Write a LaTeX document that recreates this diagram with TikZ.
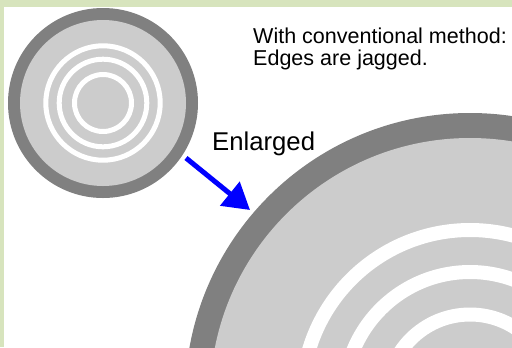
\documentclass[tikz,border=0pt]{standalone}
\usepackage{xcolor}
\usepackage{fontspec}
\setmainfont{Liberation Sans}
\usepackage{tikz}
\usetikzlibrary{arrows.meta, positioning}
\definecolor{framegreen}{RGB}{215,228,189}
\definecolor{rimgrey}{RGB}{128,128,128}
\definecolor{discgrey}{RGB}{204,204,204}
\definecolor{arrowblue}{RGB}{0,0,255}
\tikzset{
  rim/.style={fill=rimgrey},
  disc/.style={fill=discgrey},
  groove/.style={draw=white},
  caption/.style={anchor=base west, inner sep=0pt,
    font=\fontsize{21.6}{25}\selectfont},
  bigcaption/.style={anchor=base west, inner sep=0pt,
    font=\fontsize{25.8}{30}\selectfont},
  bigarrow/.style={-{Triangle[width=30bp, length=26bp]},
    line width=5bp, color=arrowblue}
}

\begin{document}
\begin{tikzpicture}[x=1bp, y=-1bp]
  \useasboundingbox (0,0) rectangle (512,347);
  % Frame
  \fill[framegreen] (0,0) rectangle (512,347);
  \fill[white] (4,7) rectangle (512,347);

  % Small disc (top left)
  \fill[rim] (103,103) circle (95);
  \fill[disc] (103,103) circle (83);
  \foreach \r in {28.5, 43.8, 57.2} {
    \draw[groove, line width=5bp] (103,103) circle (\r);
  }

  % Enlarged disc (bottom right)
  \begin{scope}
    \clip (4,7) rectangle (512,347);
    \fill[rim] (470,398) circle (285);
    \fill[disc] (470,398) circle (260);
    \foreach \r in {83.5, 126, 168} {
      \draw[groove, line width=14bp] (470,398) circle (\r);
    }
  \end{scope}

  % Labels
  \node[caption] (conv) at (253,43) {With conventional method:};
  \node[caption] (jag) at (253,65) {Edges are jagged.};
  \node[bigcaption] (enl) at (212,150) {Enlarged};

  % Arrow
  \coordinate (from) at (186,158);
  \coordinate (to) at (250,210);
  \draw[bigarrow] (from) -- (to);
\end{tikzpicture}
\end{document}
